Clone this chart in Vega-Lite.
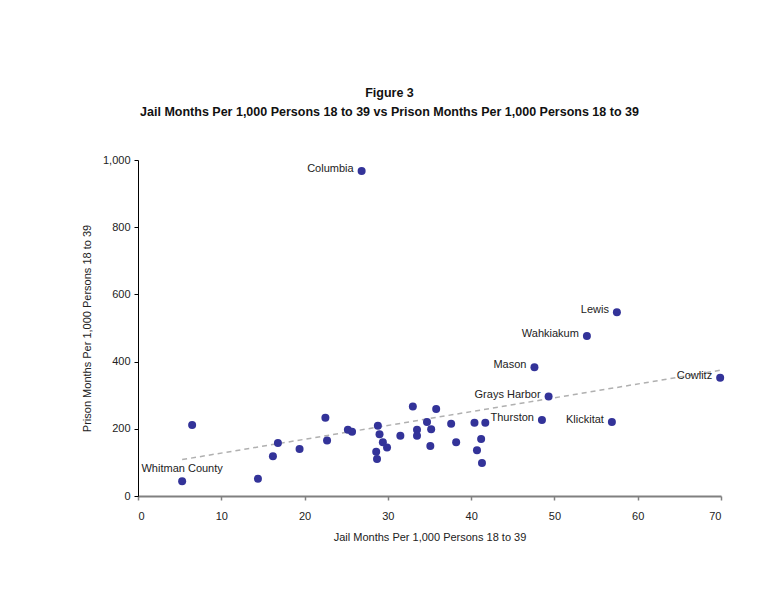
{
  "$schema": "https://vega.github.io/schema/vega-lite/v6.json",
  "width": 583,
  "height": 336,
  "autosize": {"type": "none"},
  "padding": {"left": 138, "top": 160, "right": 63, "bottom": 105},
  "background": "white",
  "config": {
    "font": "Liberation Sans",
    "view": {"stroke": null},
    "axis": {"grid": false, "labelFont": "Liberation Sans", "titleFont": "Liberation Sans", "labelFontSize": 11, "titleFontSize": 11, "titleFontWeight": "normal", "labelColor": "#222", "titleColor": "#222"}
  },
  "title": {
    "text": ["Figure 3", "Jail Months Per 1,000 Persons 18 to 39 vs Prison Months Per 1,000 Persons 18 to 39"],
    "font": "Liberation Sans",
    "fontSize": 12.5,
    "fontWeight": "bold",
    "color": "#111",
    "anchor": "middle",
    "frame": "group",
    "dx": -40,
    "offset": 36,
    "lineHeight": 19
  },
  "data": {
    "values": [
      {"county": "Whitman County", "jail": 5.3, "prison": 44},
      {"county": "", "jail": 6.5, "prison": 211},
      {"county": "", "jail": 14.4, "prison": 51},
      {"county": "", "jail": 16.2, "prison": 118},
      {"county": "", "jail": 16.8, "prison": 158},
      {"county": "", "jail": 19.4, "prison": 140},
      {"county": "", "jail": 22.5, "prison": 233},
      {"county": "", "jail": 22.7, "prison": 165},
      {"county": "", "jail": 25.2, "prison": 197},
      {"county": "", "jail": 25.7, "prison": 191},
      {"county": "Columbia", "jail": 26.85, "prison": 967},
      {"county": "", "jail": 28.6, "prison": 132},
      {"county": "", "jail": 28.7, "prison": 110},
      {"county": "", "jail": 28.8, "prison": 209},
      {"county": "", "jail": 29.0, "prison": 184},
      {"county": "", "jail": 29.4, "prison": 160},
      {"county": "", "jail": 29.9, "prison": 144},
      {"county": "", "jail": 31.5, "prison": 179},
      {"county": "", "jail": 33.0, "prison": 266},
      {"county": "", "jail": 33.5, "prison": 197},
      {"county": "", "jail": 33.5, "prison": 179},
      {"county": "", "jail": 34.7, "prison": 220},
      {"county": "", "jail": 35.2, "prison": 199},
      {"county": "", "jail": 35.1, "prison": 149},
      {"county": "", "jail": 35.8, "prison": 259},
      {"county": "", "jail": 37.6, "prison": 215},
      {"county": "", "jail": 38.2, "prison": 160},
      {"county": "", "jail": 40.4, "prison": 218},
      {"county": "", "jail": 40.7, "prison": 136},
      {"county": "", "jail": 41.2, "prison": 170},
      {"county": "", "jail": 41.7, "prison": 218},
      {"county": "", "jail": 41.3, "prison": 98},
      {"county": "Mason", "jail": 47.6, "prison": 383},
      {"county": "Grays Harbor", "jail": 49.3, "prison": 296},
      {"county": "Thurston", "jail": 48.5, "prison": 226},
      {"county": "Lewis", "jail": 57.5, "prison": 547},
      {"county": "Wahkiakum", "jail": 53.9, "prison": 476},
      {"county": "Klickitat", "jail": 56.9, "prison": 220},
      {"county": "Cowlitz", "jail": 69.9, "prison": 352}
    ]
  },
  "layer": [
    {
      "transform": [{"regression": "prison", "on": "jail"}],
      "mark": {"type": "line", "color": "#b0b0b0", "strokeDash": [5, 4], "strokeWidth": 1.5},
      "encoding": {
        "x": {"field": "jail", "type": "quantitative"},
        "y": {"field": "prison", "type": "quantitative"}
      }
    },
    {
      "mark": {"type": "circle", "size": 64, "color": "#333399", "opacity": 1},
      "encoding": {
        "x": {
          "field": "jail", "type": "quantitative",
          "scale": {"domain": [0, 70], "nice": false},
          "axis": {"values": [0, 10, 20, 30, 40, 50, 60, 70], "title": "Jail Months Per 1,000 Persons 18 to 39", "domainColor": "#808080", "domainWidth": 2, "tickColor": "#808080", "tickWidth": 1.5, "tickSize": 4, "labelPadding": 10, "titlePadding": 10}
        },
        "y": {
          "field": "prison", "type": "quantitative",
          "scale": {"domain": [0, 1000], "nice": false},
          "axis": {"values": [0, 200, 400, 600, 800, 1000], "format": ",.0f", "title": "Prison Months Per 1,000 Persons 18 to 39", "domainColor": "#000", "domainWidth": 1, "tickColor": "#000", "tickSize": 4, "labelPadding": 4, "titlePadding": 10}
        }
      }
    },
    {
      "transform": [{"filter": "datum.county != '' && datum.county != 'Whitman County'"}],
      "mark": {"type": "text", "align": "right", "baseline": "middle", "dx": -8, "dy": -2, "fontSize": 11, "font": "Liberation Sans", "color": "#222"},
      "encoding": {
        "x": {"field": "jail", "type": "quantitative"},
        "y": {"field": "prison", "type": "quantitative"},
        "text": {"field": "county"}
      }
    },
    {
      "transform": [{"filter": "datum.county == 'Whitman County'"}],
      "mark": {"type": "text", "align": "center", "baseline": "bottom", "dy": -7, "fontSize": 11, "font": "Liberation Sans", "color": "#222"},
      "encoding": {
        "x": {"field": "jail", "type": "quantitative"},
        "y": {"field": "prison", "type": "quantitative"},
        "text": {"field": "county"}
      }
    }
  ]
}
